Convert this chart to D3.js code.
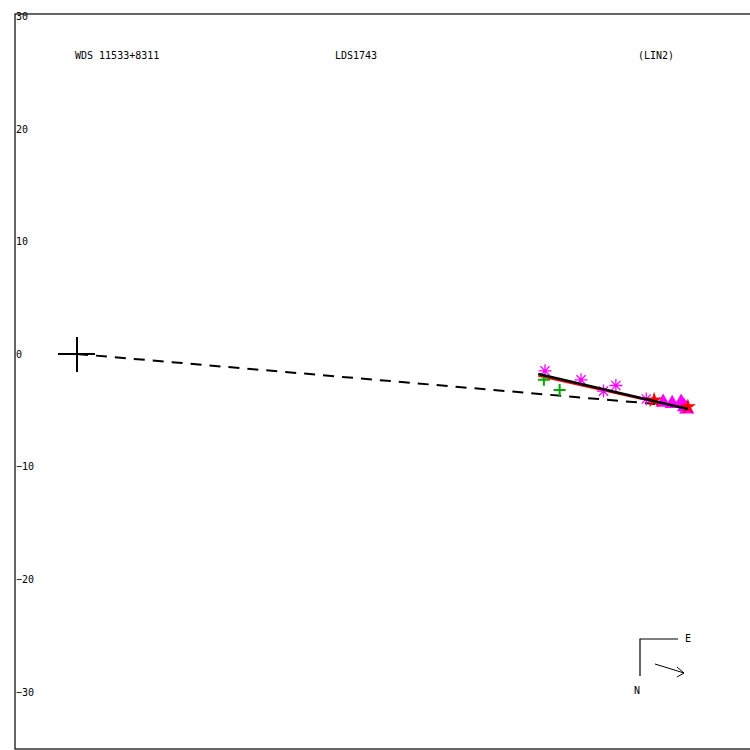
<!DOCTYPE html>
<html><head><meta charset="utf-8">
<script src="https://cdn.jsdelivr.net/npm/d3@7"></script>
<style>body{margin:0;background:#fff}svg{display:block}text{font-family:"DejaVu Sans Mono",monospace;font-size:10px;fill:#000}</style>
</head><body>
<script>
// ---- data (units: arcsec offsets from primary) ----
const yTicks = [30, 20, 10, 0, -10, -20, -30];
const titles = ["WDS 11533+8311", "LDS1743", "(LIN2)"];
const asterisks = [[41.6,-1.5],[44.8,-2.3],[46.8,-3.3],[47.9,-2.8],[50.6,-4.0]];
const plusses = [[41.5,-2.3],[42.9,-3.2]];
const redStars = [[51.3,-4.1],[54.3,-4.7]];
const triangles = [[52.1,-4.3],[52.9,-4.4],[53.7,-4.3],[54.0,-4.7],[54.2,-4.9]];
const fitLine = [[41.0,-1.78],[54.3,-4.89]];
const redLine = [[41.0,-1.96],[54.5,-4.98]];
const dashLine = [[0,0],[51.4,-4.44]];

const W = 750, H = 750;
const svg = d3.select("body").append("svg").attr("width", W).attr("height", H);
const x = d3.scaleLinear().domain([-5.51, 59.82]).range([15, 750]);
const y = d3.scaleLinear().domain([30.22, -35.11]).range([14, 749]);

// frame
svg.append("rect").attr("x",15).attr("y",14).attr("width",740).attr("height",735)
  .attr("fill","none").attr("stroke","#000").attr("stroke-width",1.2);

// y tick labels
svg.selectAll("text.yt").data(yTicks).join("text").attr("class","yt")
  .attr("x",16).attr("y",d=>y(d)+4).text(d=>d<0? "\u2212"+(-d):d);

// titles
const tx = [75, 335, 638];
svg.selectAll("text.title").data(titles).join("text").attr("class","title")
  .attr("x",(d,i)=>tx[i]).attr("y",59).text(d=>d);

const line = d3.line().x(d=>x(d[0])).y(d=>y(d[1]));

// dashed line from primary
svg.append("path").attr("d", line(dashLine)).attr("stroke","#000").attr("stroke-width",2)
  .attr("stroke-dasharray","11,8").attr("fill","none");

// red path
svg.append("path").attr("d", line(redLine)).attr("stroke","#f00").attr("stroke-width",1.5).attr("fill","none");

// primary cross
svg.append("line").attr("x1",x(0)-19).attr("x2",x(0)+18).attr("y1",y(0)).attr("y2",y(0)).attr("stroke","#000").attr("stroke-width",2);
svg.append("line").attr("x1",x(0)).attr("x2",x(0)).attr("y1",y(0)-17).attr("y2",y(0)+18).attr("stroke","#000").attr("stroke-width",2);

// green plusses
plusses.forEach(p=>{
  const cx=x(p[0]), cy=y(p[1]);
  svg.append("path").attr("d",`M${cx-6},${cy}H${cx+6}M${cx},${cy-6}V${cy+6}`).attr("stroke","#0a0").attr("stroke-width",2).attr("fill","none");
});

// magenta asterisks
asterisks.forEach(p=>{
  const cx=x(p[0]), cy=y(p[1]), r=6.5, d=4.6;
  svg.append("path").attr("d",`M${cx-r},${cy}H${cx+r}M${cx},${cy-r}V${cy+r}M${cx-d},${cy-d}L${cx+d},${cy+d}M${cx-d},${cy+d}L${cx+d},${cy-d}`)
    .attr("stroke","#f0f").attr("stroke-width",1.3).attr("fill","none");
});

// magenta triangles
svg.selectAll("path.tri").data(triangles).join("path").attr("class","tri")
  .attr("d", d3.symbol(d3.symbolTriangle, 100)).attr("transform",d=>`translate(${x(d[0])},${y(d[1])})`)
  .attr("fill","#f0f");

// red stars
svg.selectAll("path.star").data(redStars).join("path").attr("class","star")
  .attr("d", d3.symbol(d3.symbolStar, 80)).attr("transform",d=>`translate(${x(d[0])},${y(d[1])})`)
  .attr("fill","#f00");

// fit line
svg.append("path").attr("d", line(fitLine)).attr("stroke","#000").attr("stroke-width",2.5).attr("fill","none");

// compass
svg.append("path").attr("d","M678,639H640V676").attr("stroke","#000").attr("stroke-width",1.2).attr("fill","none");
svg.append("text").attr("x",685).attr("y",642).text("E");
svg.append("text").attr("x",634).attr("y",694).text("N");
svg.append("path").attr("d","M655,664L684,673M677,667L684,673L677,677").attr("stroke","#000").attr("stroke-width",1).attr("fill","none");
</script>
</body></html>
